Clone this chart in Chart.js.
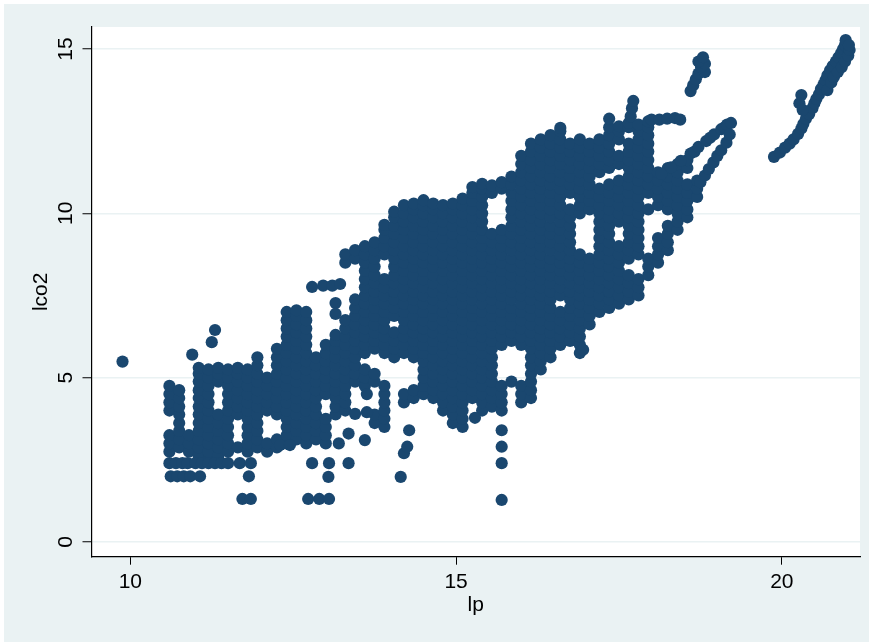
<!DOCTYPE html>
<html>
<head>
<meta charset="utf-8">
<title>lco2 vs lp</title>
<script src="https://cdn.jsdelivr.net/npm/chart.js@4.4.1/dist/chart.umd.min.js"></script>
<style>
    html, body { margin: 0; padding: 0; background: #ffffff; }
    #wrap { width: 873px; height: 642px; }
</style>
</head>
<body>
<div id="wrap"><canvas id="scatterChart" width="873" height="642"></canvas></div>
<script>
// Axis ticks
const xTicks = [10, 15, 20];
const yTicks = [0, 5, 10, 15];

// lp position of each column of markers
const lpCols = [
    10.6, 10.75, 10.9, 11.05, 11.2, 11.35, 11.5, 11.65, 11.8, 11.95,
    12.1, 12.25, 12.4, 12.55, 12.7, 12.85, 13.0, 13.15, 13.3, 13.45,
    13.6, 13.75, 13.9, 14.05, 14.2, 14.35, 14.5, 14.65, 14.8, 14.95,
    15.1, 15.25, 15.4, 15.55, 15.7, 15.85, 16.0, 16.15, 16.3, 16.45,
    16.6, 16.75, 16.9, 17.05, 17.2, 17.35, 17.5, 17.65, 17.8, 17.95,
    18.1, 18.25, 18.4, 18.55, 18.7
];

// lco2 values seen in each of those columns
const lco2Cols = [
    [2.75, 3, 3.25, 4, 4.25, 4.5, 4.75], // 10.6
    [2.88, 3.12, 3.38, 3.62, 3.88, 4.12, 4.38, 4.62], // 10.75
    [2.75, 3, 3.25], // 10.9
    [2.62, 2.88, 3.12, 3.38, 3.62, 3.88, 4.12, 4.38, 4.62, 4.88, 5.12, 5.3], // 11.05
    [2.5, 2.75, 3, 3.25, 3.5, 3.75, 4, 4.25, 4.5, 4.75, 5, 5.25], // 11.2
    [2.62, 2.88, 3.12, 3.38, 3.62, 3.88, 4.88, 5.12, 5.3], // 11.35
    [2.75, 3, 3.25, 3.5, 3.75, 4, 4.25, 4.5, 4.75, 5, 5.25], // 11.5
    [2.88, 3.88, 4.12, 4.38, 4.62, 4.88, 5.12, 5.3], // 11.65
    [2.75, 3, 3.25, 3.5, 3.75, 4, 4.25, 4.5, 4.75, 5, 5.25], // 11.8
    [2.88, 3.12, 3.38, 3.62, 3.88, 4.12, 4.38, 4.62, 4.88, 5.12, 5.38, 5.62], // 11.95
    [2.75, 3, 4, 4.25, 4.5, 4.75, 5], // 12.1
    [2.88, 3.12, 3.88, 4.12, 4.38, 4.62, 4.88, 5.12, 5.38, 5.62, 5.88], // 12.25
    [3, 3.25, 3.5, 3.75, 4, 4.25, 4.5, 4.75, 5, 5.25, 5.5, 5.75, 6, 6.25, 6.5, 6.75, 7], // 12.4
    [3.12, 3.38, 3.62, 3.88, 4.12, 4.38, 4.62, 4.88, 5.12, 5.38, 5.62, 5.88, 6.12, 6.38, 6.62, 6.88, 7.05], // 12.55
    [3, 3.25, 3.5, 3.75, 4, 4.25, 4.5, 4.75, 5, 5.25, 5.5, 5.75, 6, 6.25, 6.5, 6.75, 7], // 12.7
    [3.12, 3.38, 3.62, 3.88, 4.12, 4.38, 4.62, 4.88, 5.12, 5.38, 5.62], // 12.85
    [3, 3.25, 3.5, 3.75, 4.5, 4.75, 5, 5.25, 5.5, 5.75, 6], // 13.0
    [3.88, 4.12, 4.38, 4.62, 4.88, 5.12, 5.38, 5.62, 5.88, 6.12, 6.3], // 13.15
    [4, 4.25, 4.5, 4.75, 5, 5.25, 5.5, 5.75, 6, 6.25, 6.5, 6.75, 8.5, 8.75], // 13.3
    [4.88, 5.12, 5.38, 5.62, 5.88, 6.12, 6.38, 6.62, 6.88, 7.12, 7.38, 8.62, 8.88], // 13.45
    [4.75, 5, 5.25, 5.75, 6, 6.25, 6.5, 6.75, 7, 7.25, 7.5, 7.75, 8, 8.25, 8.5, 8.75, 9], // 13.6
    [3.62, 3.88, 4.88, 5.12, 5.88, 6.12, 6.38, 6.62, 6.88, 7.12, 7.38, 7.62, 7.88, 8.12, 8.38, 8.62, 8.88, 9.12], // 13.75
    [3.5, 3.75, 4, 4.25, 4.5, 4.75, 5.75, 6, 6.25, 6.5, 6.75, 7, 7.25, 7.5, 7.75, 8, 8.75, 9, 9.25, 9.5, 9.65], // 13.9
    [5.62, 5.88, 6.12, 6.38, 6.88, 7.12, 7.38, 7.62, 7.88, 8.12, 8.38, 8.62, 8.88, 9.12, 9.38, 9.62, 9.88, 10.05], // 14.05
    [4.25, 4.5, 5.75, 6, 6.25, 6.5, 6.75, 7, 7.25, 7.5, 7.75, 8, 8.25, 8.5, 8.75, 9, 9.25, 9.5, 9.75, 10, 10.25], // 14.2
    [4.38, 4.62, 5.62, 5.88, 6.12, 6.38, 6.62, 6.88, 7.12, 7.38, 7.62, 7.88, 8.12, 8.38, 8.62, 8.88, 9.12, 9.38, 9.62, 9.88, 10.12, 10.3], // 14.35
    [4.5, 4.75, 5, 5.25, 5.5, 5.75, 6, 6.25, 6.5, 6.75, 7, 7.25, 7.5, 7.75, 8, 8.25, 8.5, 8.75, 9, 9.25, 9.5, 9.75, 10, 10.25, 10.4], // 14.5
    [4.38, 4.62, 4.88, 5.12, 5.38, 5.62, 5.88, 6.12, 6.38, 6.62, 6.88, 7.12, 7.38, 7.62, 7.88, 8.12, 8.38, 8.62, 8.88, 9.12, 9.38, 9.62, 9.88, 10.12, 10.3], // 14.65
    [4, 4.25, 4.5, 4.75, 5, 5.25, 5.5, 5.75, 6, 6.25, 6.5, 6.75, 7, 7.25, 7.5, 7.75, 8, 8.25, 8.5, 8.75, 9, 9.25, 9.5, 9.75, 10, 10.25], // 14.8
    [3.62, 3.88, 4.12, 4.38, 4.62, 4.88, 5.12, 5.38, 5.62, 5.88, 6.12, 6.38, 6.62, 6.88, 7.12, 7.38, 7.62, 7.88, 8.12, 8.38, 8.62, 8.88, 9.12, 9.38, 9.62, 9.88, 10.12, 10.3], // 14.95
    [3.5, 3.75, 4, 4.25, 4.5, 4.75, 5, 5.25, 5.5, 5.75, 6, 6.25, 6.5, 6.75, 7, 7.25, 7.5, 7.75, 8, 8.25, 8.5, 8.75, 9, 9.25, 9.5, 9.75, 10, 10.25, 10.45], // 15.1
    [4.38, 4.62, 4.88, 5.12, 5.38, 5.62, 5.88, 6.12, 6.38, 6.62, 6.88, 7.12, 7.38, 7.62, 7.88, 8.12, 8.38, 8.62, 8.88, 9.12, 9.38, 9.62, 9.88, 10.12, 10.38, 10.62, 10.8], // 15.25
    [4, 4.25, 4.5, 4.75, 5, 5.25, 5.5, 5.75, 6, 6.25, 6.5, 6.75, 7, 7.25, 7.5, 7.75, 8, 8.25, 8.5, 8.75, 9, 9.25, 9.5, 9.75, 10, 10.25, 10.5, 10.75, 10.9], // 15.4
    [4.12, 4.38, 4.62, 4.88, 5.12, 5.38, 5.62, 5.88, 6.12, 6.38, 6.62, 6.88, 7.12, 7.38, 7.62, 7.88, 8.12, 8.38, 8.62, 8.88, 9.12, 9.38, 10.62, 10.85], // 15.55
    [4, 4.25, 4.5, 4.75, 6, 6.25, 6.5, 6.75, 7, 7.25, 7.5, 7.75, 8, 8.25, 8.5, 8.75, 9, 9.25, 9.5, 10.75, 10.95], // 15.7
    [4.88, 6.12, 6.38, 6.62, 6.88, 7.12, 7.38, 7.62, 7.88, 8.12, 8.38, 8.62, 8.88, 9.12, 9.38, 9.62, 9.88, 10.12, 10.38, 10.62, 10.88, 11.12], // 15.85
    [4.25, 4.5, 4.75, 6, 6.25, 6.5, 6.75, 7, 7.25, 7.5, 7.75, 8, 8.25, 8.5, 8.75, 9, 9.25, 9.5, 9.75, 10, 10.25, 10.5, 10.75, 11, 11.25, 11.5, 11.75], // 16.0
    [4.38, 4.62, 4.88, 5.12, 5.38, 5.62, 5.88, 6.12, 6.38, 6.62, 6.88, 7.12, 7.38, 7.62, 7.88, 8.12, 8.38, 8.62, 8.88, 9.12, 9.38, 9.62, 9.88, 10.12, 10.38, 10.62, 10.88, 11.12, 11.38, 11.62, 11.88, 12.12], // 16.15
    [5.25, 5.5, 5.75, 6, 6.25, 6.5, 6.75, 7, 7.25, 7.5, 7.75, 8, 8.25, 8.5, 8.75, 9, 9.25, 9.5, 9.75, 10, 10.25, 10.5, 10.75, 11, 11.25, 11.5, 11.75, 12, 12.25], // 16.3
    [5.62, 5.88, 6.12, 6.38, 6.62, 6.88, 7.12, 7.38, 7.62, 7.88, 8.12, 8.38, 8.62, 8.88, 9.12, 9.38, 9.62, 9.88, 10.12, 10.38, 10.62, 10.88, 11.12, 11.38, 11.62, 11.88, 12.12, 12.38], // 16.45
    [6, 6.25, 6.5, 6.75, 7, 7.5, 7.75, 8, 8.25, 8.5, 8.75, 9, 9.25, 9.5, 9.75, 10, 10.25, 10.5, 10.75, 11, 11.25, 11.5, 11.75, 12, 12.25, 12.5, 12.6], // 16.6
    [6.12, 6.38, 6.62, 6.88, 7.12, 7.38, 7.62, 7.88, 8.12, 8.38, 8.62, 8.88, 9.12, 9.38, 9.62, 9.88, 10.12, 10.62, 10.88, 11.12, 11.38, 11.62, 11.88, 12.12], // 16.75
    [5.75, 6, 6.25, 6.5, 6.75, 7, 7.25, 7.5, 7.75, 8, 8.25, 8.5, 8.75, 10, 10.25, 10.5, 10.75, 11, 11.25, 11.5, 11.75, 12, 12.25], // 16.9
    [6.62, 6.88, 7.12, 7.38, 7.62, 7.88, 8.12, 8.38, 8.62, 10.12, 10.38, 10.62, 10.88, 11.12, 11.38, 11.62, 11.88, 12.12], // 17.05
    [7, 7.25, 7.5, 7.75, 8, 8.25, 8.5, 8.75, 9, 9.25, 9.5, 9.75, 10, 10.25, 10.5, 10.75, 11.25, 11.5, 11.75, 12, 12.25], // 17.2
    [7.12, 7.38, 7.62, 7.88, 8.12, 8.38, 8.62, 8.88, 9.12, 9.38, 9.62, 9.88, 10.12, 10.38, 10.62, 10.88, 11.38, 11.62, 11.88, 12.12, 12.38, 12.62, 12.88], // 17.35
    [7.25, 7.5, 7.75, 8, 8.25, 8.5, 8.75, 9, 9.75, 10, 10.25, 10.5, 10.75, 11, 11.5, 11.75, 12.25, 12.5, 12.65], // 17.5
    [7.38, 7.62, 7.88, 8.12, 8.62, 8.88, 9.12, 9.38, 9.62, 9.88, 10.12, 10.38, 10.62, 10.88, 11.12, 11.38, 11.62, 11.88, 12.12, 12.62, 12.75], // 17.65
    [7.5, 7.75, 8, 8.75, 9, 9.25, 9.5, 9.75, 10, 10.25, 10.5, 10.75, 11, 11.25, 11.5, 11.75, 12, 12.25, 12.5, 12.7], // 17.8
    [8.12, 8.38, 8.62, 10.12, 10.62, 10.88, 11.12, 11.38, 11.62, 11.88, 12.12, 12.38, 12.62, 12.8], // 17.95
    [8.5, 8.75, 9, 9.25, 10.25, 10.5, 10.75, 11, 11.25], // 18.1
    [8.88, 9.12, 9.38, 9.62, 10.12, 10.38, 10.62, 10.88, 11.12, 11.38], // 18.25
    [9.5, 9.75, 10, 10.25, 10.5, 10.75, 11, 11.25, 11.5], // 18.4
    [9.88, 10.12, 10.38, 10.62, 10.88, 11.38, 11.62], // 18.55
    [10.5, 10.75, 11] // 18.7
];

// Single markers and thin trails outside the columns
const lpDots = [
    9.88, 10.62, 10.72, 10.82, 10.92, 11.07, 11.82, 13.04, 14.15,
    11.72, 11.85, 12.73, 12.9, 13.05, 15.7,
    10.6, 10.7, 10.8, 10.88, 11.0, 11.1, 11.2, 11.3, 11.4, 11.5, 11.68, 11.85, 12.79, 13.05, 13.35, 15.7,
    13.2, 13.35, 13.45, 13.6, 13.63, 13.63, 14.2, 14.25, 14.28, 15.7, 15.7, 15.29, 16.95, 12.3, 12.45,
    10.95, 11.25, 11.3, 12.79, 12.96, 13.1, 13.22, 13.15, 13.15,
    18.0, 18.12, 18.24, 18.36, 18.44,
    18.15, 18.3, 18.45, 18.6, 18.66, 18.72, 18.84, 18.9, 18.96, 19.07, 19.12, 19.16, 19.22,
    18.75, 18.82, 18.88, 18.95, 19.01, 19.07, 19.15, 19.2,
    17.68, 17.7, 17.72,
    18.6, 18.64, 18.68, 18.72, 18.82, 18.76, 18.82, 18.72, 18.79,
    19.88, 19.97, 20.05, 20.12, 20.18, 20.25, 20.3, 20.33, 20.37, 20.42, 20.47, 20.5, 20.53,
    20.57, 20.6, 20.64, 20.67, 20.7, 20.74, 20.78, 20.83, 20.87, 20.91, 20.94, 20.97, 20.98,
    20.7, 20.76, 20.8, 20.86, 20.92, 20.97, 21.02, 21.04, 21.03,
    20.3, 20.27, 20.32
];
const lco2Dots = [
    5.49, 2.0, 2.0, 2.0, 2.0, 2.0, 2.0, 1.98, 1.98,
    1.31, 1.31, 1.31, 1.31, 1.31, 1.28,
    2.4, 2.4, 2.4, 2.4, 2.4, 2.4, 2.4, 2.4, 2.4, 2.4, 2.4, 2.4, 2.4, 2.4, 2.4, 2.4,
    3.0, 3.3, 3.9, 3.1, 3.95, 4.5, 2.7, 2.9, 3.4, 2.9, 3.4, 3.78, 5.85, 2.95, 2.95,
    5.7, 6.08, 6.45, 7.76, 7.8, 7.8, 7.85, 7.27, 6.94,
    12.85, 12.85, 12.88, 12.9, 12.85,
    11.2, 11.4, 11.6, 11.82, 11.88, 12.02, 12.2, 12.3, 12.4, 12.56, 12.62, 12.7, 12.75,
    10.95, 11.15, 11.35, 11.55, 11.75, 11.92, 12.15, 12.4,
    12.95, 13.2, 13.42,
    13.72, 13.9, 14.08, 14.25, 14.3, 14.45, 14.55, 14.62, 14.75,
    11.72, 11.85, 12.0, 12.12, 12.25, 12.42, 12.58, 12.72, 12.88, 13.02, 13.2, 13.35, 13.48,
    13.62, 13.78, 13.92, 14.05, 14.2, 14.35, 14.48, 14.62, 14.75, 14.88, 15.0, 15.12, 15.27,
    13.75, 13.98, 14.15, 14.3, 14.45, 14.62, 14.8, 14.97, 15.12,
    13.6, 13.35, 13.15
];

const FONT = '"Liberation Sans", Arial, Helvetica, sans-serif';
const MARKER = '#1a476f';

function buildPoints() {
    const pts = [];
    lpCols.forEach((lp, i) => {
        lco2Cols[i].forEach(v => pts.push({ x: lp, y: v }));
    });
    lpDots.forEach((lp, i) => pts.push({ x: lp, y: lco2Dots[i] }));
    return pts;
}

// Stata style backdrop and the rotated y tick labels
const stataFrame = {
    id: 'stataFrame',
    beforeDraw(chart) {
        const { ctx, chartArea: a, width, height } = chart;
        ctx.save();
        ctx.fillStyle = '#ffffff';
        ctx.fillRect(0, 0, width, height);
        ctx.fillStyle = '#eaf2f3';
        ctx.fillRect(4, 4, width - 8, height - 4);
        ctx.fillStyle = '#ffffff';
        ctx.fillRect(a.left, a.top, a.right - a.left, a.bottom - a.top);
        ctx.restore();
    },
    afterDraw(chart) {
        const { ctx } = chart;
        const yScale = chart.scales.y;
        ctx.save();
        ctx.font = '21px ' + FONT;
        ctx.fillStyle = '#000000';
        ctx.textAlign = 'center';
        ctx.textBaseline = 'middle';
        yTicks.forEach(v => {
            const py = yScale.getPixelForValue(v);
            ctx.save();
            ctx.translate(66, py);
            ctx.rotate(-Math.PI / 2);
            ctx.fillText(String(v), 0, 0);
            ctx.restore();
        });
        ctx.restore();
    }
};

function initScatter() {
    const ctx = document.getElementById('scatterChart').getContext('2d');

    new Chart(ctx, {
        type: 'scatter',
        data: {
            datasets: [{
                label: 'lco2',
                data: buildPoints(),
                pointRadius: 6.1,
                pointHoverRadius: 6.1,
                pointBorderWidth: 0,
                pointBackgroundColor: MARKER,
                borderColor: MARKER
            }]
        },
        options: {
            responsive: false,
            animation: false,
            events: [],
            layout: { padding: { left: 4, right: 13, top: 27, bottom: 0 } },
            plugins: {
                legend: { display: false },
                tooltip: { enabled: false }
            },
            scales: {
                x: {
                    type: 'linear',
                    position: 'bottom',
                    min: 9.404,
                    max: 21.2,
                    afterBuildTicks: axis => { axis.ticks = xTicks.map(v => ({ value: v })); },
                    afterFit: axis => { axis.height = 85.3; },
                    grid: {
                        drawOnChartArea: false,
                        drawTicks: true,
                        tickLength: 8,
                        tickColor: '#000000',
                        tickWidth: 1
                    },
                    border: { display: true, color: '#000000', width: 1.2 },
                    ticks: {
                        font: { family: FONT, size: 21 },
                        color: '#000000',
                        padding: 5,
                        maxRotation: 0
                    },
                    title: {
                        display: true,
                        text: 'lp',
                        font: { family: FONT, size: 21 },
                        color: '#000000',
                        padding: { top: 0, bottom: 24 }
                    }
                },
                y: {
                    type: 'linear',
                    min: -0.447,
                    max: 15.67,
                    afterBuildTicks: axis => { axis.ticks = yTicks.map(v => ({ value: v })); },
                    afterFit: axis => { axis.width = 87.5; },
                    grid: {
                        color: '#eaf2f3',
                        lineWidth: 1.5,
                        drawTicks: true,
                        tickLength: 9,
                        tickColor: '#000000',
                        tickWidth: 1
                    },
                    border: { display: true, color: '#000000', width: 1.2 },
                    ticks: {
                        font: { family: FONT, size: 21 },
                        color: 'rgba(0,0,0,0)'
                    },
                    title: {
                        display: true,
                        text: 'lco2',
                        font: { family: FONT, size: 21 },
                        color: '#000000',
                        padding: { top: 25, bottom: 0 }
                    }
                }
            }
        },
        plugins: [stataFrame]
    });
}

document.addEventListener('DOMContentLoaded', initScatter);
</script>
</body>
</html>
